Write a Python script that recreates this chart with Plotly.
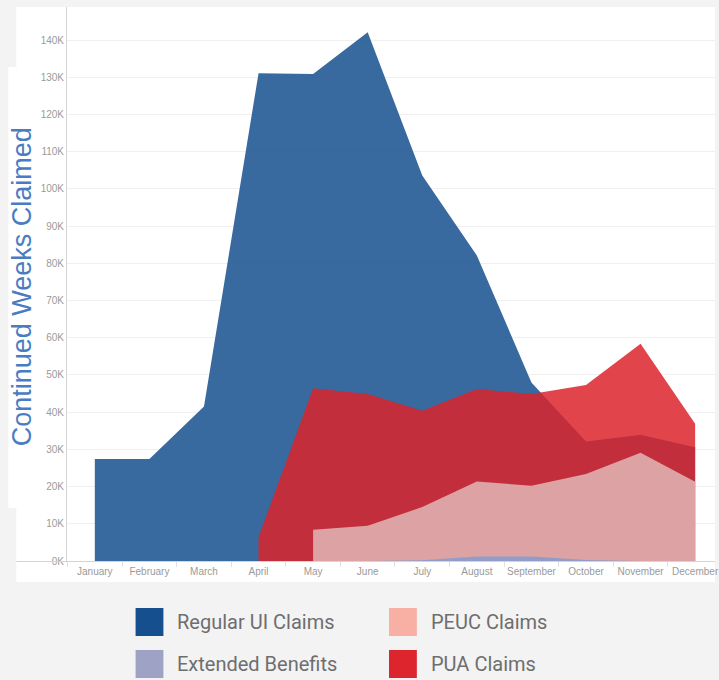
import plotly.graph_objects as go

months = ["January", "February", "March", "April", "May", "June", "July",
          "August", "September", "October", "November", "December"]

regular_ui = [27400, 27400, 41500, 131100, 130900, 142100, 103600, 82100, 48000, 32100, 33900, 30600]
pua = [None, None, None, 6400, 46400, 44900, 40400, 46200, 44900, 47300, 58400, 36900]
peuc = [None, None, None, None, 8400, 9500, 14500, 21400, 20200, 23400, 29100, 21300]
extended = [None, None, None, None, None, 0, 200, 1200, 1200, 300, 0, 0]

ytick_vals = list(range(0, 140001, 10000))
ytick_text = [f"{v // 1000}K" for v in ytick_vals]

legend_names = ["Regular UI Claims", "PEUC Claims", "Extended Benefits", "PUA Claims"]
legend_colors = ["#154F8E", "#F8B0A4", "#9EA3C6", "#DC252C"]

fig = go.Figure()
fig.add_trace(go.Scatter(x=months, y=regular_ui, mode="lines", fill="tozeroy",
                         line=dict(width=0, color="rgba(21,79,142,0.85)"),
                         fillcolor="rgba(21,79,142,0.85)", name="Regular UI Claims"))
fig.add_trace(go.Scatter(x=months, y=pua, mode="lines", fill="tozeroy",
                         line=dict(width=0, color="rgba(220,37,44,0.85)"),
                         fillcolor="rgba(220,37,44,0.85)", name="PUA Claims"))
fig.add_trace(go.Scatter(x=months, y=peuc, mode="lines", fill="tozeroy",
                         line=dict(width=0, color="rgba(222,168,168,0.96)"),
                         fillcolor="rgba(222,168,168,0.96)", name="PEUC Claims"))
fig.add_trace(go.Scatter(x=months, y=extended, mode="lines", fill="tozeroy",
                         line=dict(width=0, color="rgba(140,156,201,0.95)"),
                         fillcolor="rgba(140,156,201,0.95)", name="Extended Benefits"))

# plot area geometry (pixels): left 67, right 719, top 7, bottom 561
L, R, T, B = 67, 719, 7, 561
W, H = R - L, B - T


def px(x):
    return (x - L) / W


def py(y):
    return (B - y) / H


shapes = [
    # white panels
    dict(type="rect", xref="paper", yref="paper", x0=px(16), x1=px(719), y0=py(582), y1=py(7),
         fillcolor="white", line=dict(width=0), layer="below"),
    dict(type="rect", xref="paper", yref="paper", x0=px(8), x1=px(67), y0=py(508), y1=py(67),
         fillcolor="white", line=dict(width=0), layer="below"),
    # x axis baseline extending to the left
    dict(type="line", xref="paper", yref="paper", x0=px(16), x1=px(719), y0=py(561.5), y1=py(561.5),
         line=dict(color="#D4D4D4", width=1)),
]

annotations = [
    dict(text="Continued Weeks Claimed", textangle=-90, xref="paper", yref="paper",
         x=px(22), y=py(287), xanchor="center", yanchor="middle", showarrow=False,
         font=dict(family="Liberation Sans, Arial", size=27, color="#4A7CC2")),
]

# legend (2x2 grid)
leg_pos = [(136, 608), (391, 608), (136, 650), (391, 650)]
for (lx, ly), name, color in zip(leg_pos, legend_names, legend_colors):
    shapes.append(dict(type="rect", xref="paper", yref="paper", x0=px(lx), x1=px(lx + 28),
                       y0=py(ly + 28), y1=py(ly), fillcolor=color, line=dict(width=0)))
    annotations.append(dict(text=name, xref="paper", yref="paper", x=px(lx + 40), y=py(ly + 14),
                            xanchor="left", yanchor="middle", showarrow=False,
                            font=dict(family="Roboto", size=20, color="#6E6E6E")))

fig.update_layout(
    width=719, height=680,
    margin=dict(l=L, r=719 - R, t=T, b=680 - B),
    paper_bgcolor="#F3F3F3",
    plot_bgcolor="white",
    showlegend=False,
    shapes=shapes,
    annotations=annotations,
    font=dict(family="Liberation Sans, Arial"),
)
fig.update_xaxes(
    type="category", range=[-0.51, 11.364],
    tickson="boundaries", ticks="outside", ticklen=5, tickcolor="#E0E0E0",
    tickangle=0, ticklabelstandoff=3,
    tickfont=dict(size=10, color="#9A9A9A"),
    showgrid=False, showline=False, zeroline=False,
)
fig.update_yaxes(
    range=[0, 148900], tickvals=ytick_vals, ticktext=ytick_text,
    tickfont=dict(size=10, color="#9A9A9A"),
    showgrid=True, gridcolor="#F0F0F0", gridwidth=1,
    showline=True, linecolor="#D4D4D4", linewidth=1,
    zeroline=False, ticks="",
)

fig.write_html(
    "out.html",
    config={"displayModeBar": False},
    post_script="document.body.style.margin='0';document.body.style.overflow='hidden';",
)
